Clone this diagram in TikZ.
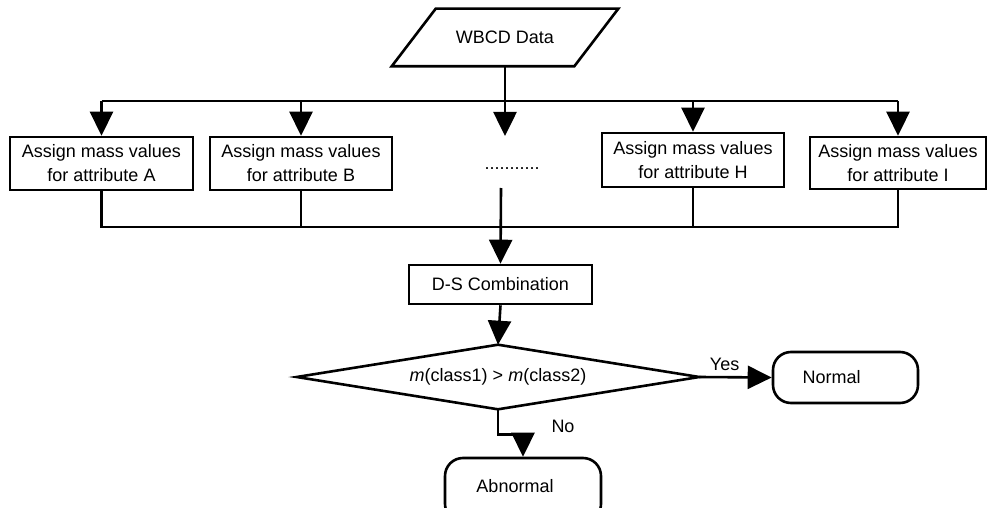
\documentclass[tikz,border=0pt]{standalone}
\usepackage{fontspec}
\setmainfont{Liberation Sans}
\usetikzlibrary{arrows.meta}
\begin{document}
\begin{tikzpicture}[x=1pt,y=-1pt,
  line width=2.6pt,
  every node/.style={font=\fontsize{18}{24}\selectfont, inner sep=0pt},
  arr/.style={-{Triangle[length=24pt,width=23pt]}},
  boxst/.style={draw, rectangle, align=center},
  term/.style={draw, rectangle, rounded corners=18pt}
]
\useasboundingbox (0,0) rectangle (987,508);
% input
\node (data) at (505,37.5) [minimum width=224, minimum height=55] {WBCD Data};
\draw ([xshift=44pt]data.north west) -- (data.north east) -- ([xshift=-44pt]data.south east) -- (data.south west) -- cycle;
% attribute boxes
\node[boxst, minimum width=183, minimum height=53] (A) at (101.5,163.5) {Assign mass values\\for attribute A};
\node[boxst, minimum width=182, minimum height=53] (B) at (301,163.5) {Assign mass values\\for attribute B};
\node[boxst, minimum width=182, minimum height=54] (H) at (693,160) {Assign mass values\\for attribute H};
\node[boxst, minimum width=176, minimum height=52] (I) at (898,163) {Assign mass values\\for attribute I};
\node (dots) at (512,169) {...........};
\coordinate (tl) at (0,101);
\coordinate (bl) at (0,227);
\coordinate (midtip) at (505,136);
\coordinate (midstart) at (501,188);
% top distribution
\draw (A.north |- tl) -- (I.north |- tl);
\draw[arr] (data.south) -- (midtip);
\draw[arr] (A.north |- tl) -- (A.north);
\draw[arr] (B.north |- tl) -- (B.north);
\draw[arr] (H.north |- tl) -- (H.north);
\draw[arr] (I.north |- tl) -- (I.north);
% bottom collection
\draw (A.south) -- (A.south |- bl) -- (I.south |- bl) -- (I.south);
\draw (B.south) -- (B.south |- bl);
\draw (H.south) -- (H.south |- bl);
% D-S
\node[boxst, minimum width=183, minimum height=39] (ds) at (500.5,284.5) {D-S Combination};
\draw[arr] (midstart) -- (ds.north);
% decision
\node (dec) at (498,377) [minimum width=400, minimum height=62] {\textit{m}(class1) > \textit{m}(class2)};
\draw (dec.north) -- (dec.east) -- (dec.south) -- (dec.west) -- cycle;
\draw[arr] (ds.south) -- (dec.north);
% outcomes
\node[term, minimum width=145, minimum height=51] (normal) at (845.5,377.5) {Normal\kern28pt};
\node[term, minimum width=156, minimum height=64] (abn) at (523,490) {\raisebox{8pt}{Abnormal}\kern16pt};
\draw[arr] (dec.east) -- node[pos=0.35, above=5pt] {Yes} (normal.west);
\draw[arr] (dec.south) -- ++(0,25) -| (abn.north);
\node (no) at (563,426) {No};
\end{tikzpicture}
\end{document}
